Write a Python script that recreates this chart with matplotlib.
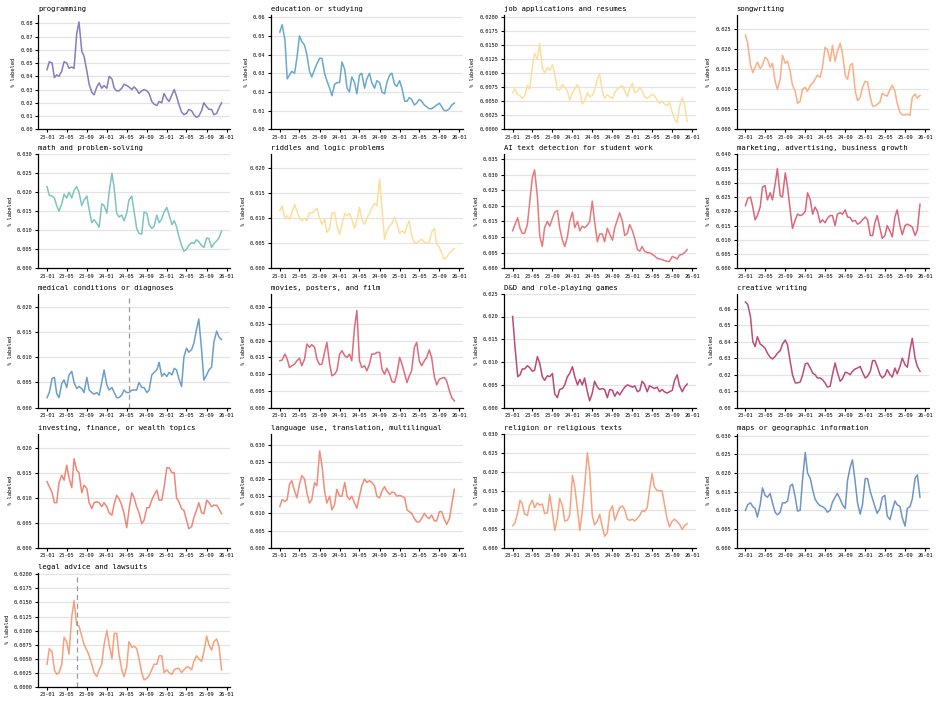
import matplotlib
matplotlib.use("Agg")
import matplotlib.pyplot as plt
import matplotlib.dates as mdates
from matplotlib.ticker import MaxNLocator
import pandas as pd

plt.rcParams["font.family"] = ["DejaVu Sans Mono"]

# semi-monthly sample dates shared by all series
dates = pd.date_range("2023-01-01", periods=71, freq="SMS")

titles = [
    "programming", "education or studying", "job applications and resumes", "songwriting",
    "math and problem-solving", "riddles and logic problems", "AI text detection for student work",
    "marketing, advertising, business growth",
    "medical conditions or diagnoses", "movies, posters, and film", "D&D and role-playing games",
    "creative writing",
    "investing, finance, or wealth topics", "language use, translation, multilingual",
    "religion or religious texts", "maps or geographic information",
    "legal advice and lawsuits",
]

colors = [
    "#8a7bbf", "#67a9cf", "#fddf9c", "#fcae85",
    "#7fc4bd", "#fddf9c", "#e9787b", "#dc6678",
    "#6a9fcc", "#df6c7c", "#bb4a76", "#bf4c79",
    "#ee8777", "#f28d77", "#f8a37e", "#6f95c6",
    "#f7a07b",
]

programming = [0.045, 0.051, 0.050, 0.039, 0.041, 0.040, 0.044, 0.051, 0.050, 0.046,
               0.047, 0.046, 0.072, 0.081, 0.059, 0.055, 0.044, 0.034, 0.028, 0.026,
               0.032, 0.035, 0.031, 0.033, 0.031, 0.040, 0.038, 0.031, 0.029, 0.029,
               0.031, 0.034, 0.033, 0.032, 0.030, 0.032, 0.030, 0.027, 0.029, 0.030,
               0.029, 0.027, 0.021, 0.019, 0.018, 0.021, 0.020, 0.027, 0.023, 0.021,
               0.026, 0.030, 0.025, 0.019, 0.013, 0.011, 0.012, 0.015, 0.014, 0.011,
               0.009, 0.010, 0.014, 0.020, 0.017, 0.015, 0.015, 0.011, 0.012, 0.016,
               0.020]
education = [0.052, 0.056, 0.048, 0.027, 0.029, 0.031, 0.030, 0.038, 0.050, 0.047,
             0.045, 0.040, 0.031, 0.028, 0.032, 0.035, 0.038, 0.038, 0.030, 0.026,
             0.022, 0.018, 0.024, 0.025, 0.025, 0.036, 0.032, 0.022, 0.020, 0.028,
             0.025, 0.019, 0.029, 0.030, 0.022, 0.027, 0.030, 0.025, 0.022, 0.026,
             0.025, 0.020, 0.019, 0.025, 0.029, 0.030, 0.024, 0.023, 0.026, 0.022,
             0.015, 0.015, 0.017, 0.016, 0.013, 0.014, 0.016, 0.015, 0.013, 0.012,
             0.011, 0.011, 0.012, 0.013, 0.014, 0.012, 0.010, 0.010, 0.011, 0.013,
             0.014]
job = [0.0065, 0.0072, 0.0062, 0.0060, 0.0055, 0.0060, 0.0078, 0.0072, 0.0110, 0.0135,
       0.0125, 0.0153, 0.0110, 0.0100, 0.0110, 0.0105, 0.0115, 0.0098, 0.0070, 0.0070,
       0.0080, 0.0075, 0.0068, 0.0052, 0.0065, 0.0072, 0.0080, 0.0068, 0.0045, 0.0050,
       0.0065, 0.0058, 0.0060, 0.0070, 0.0090, 0.0098, 0.0068, 0.0055, 0.0062, 0.0058,
       0.0055, 0.0065, 0.0072, 0.0075, 0.0078, 0.0068, 0.0058, 0.0072, 0.0082, 0.0065,
       0.0068, 0.0075, 0.0068, 0.0058, 0.0055, 0.0058, 0.0062, 0.0060, 0.0052, 0.0046,
       0.0050, 0.0045, 0.0042, 0.0048, 0.0030, 0.0018, 0.0012, 0.0040, 0.0056, 0.0045,
       0.0014]
songwriting = [0.0235, 0.0215, 0.0160, 0.0142, 0.0155, 0.0168, 0.0152, 0.0160, 0.0180, 0.0175,
               0.0155, 0.0165, 0.0120, 0.0100, 0.0125, 0.0185, 0.0165, 0.0170, 0.0145, 0.0110,
               0.0095, 0.0065, 0.0070, 0.0100, 0.0105, 0.0095, 0.0110, 0.0115, 0.0125, 0.0135,
               0.0130, 0.0155, 0.0205, 0.0200, 0.0170, 0.0210, 0.0170, 0.0195, 0.0215, 0.0190,
               0.0135, 0.0125, 0.0160, 0.0165, 0.0095, 0.0072, 0.0080, 0.0105, 0.0120, 0.0118,
               0.0080, 0.0058, 0.0058, 0.0062, 0.0068, 0.0090, 0.0085, 0.0083, 0.0100, 0.0110,
               0.0095, 0.0065, 0.0042, 0.0036, 0.0036, 0.0038, 0.0035, 0.0080, 0.0088, 0.0078,
               0.0085]
math_ = [0.0215, 0.0192, 0.0190, 0.0185, 0.0165, 0.0150, 0.0170, 0.0195, 0.0185, 0.0200,
         0.0185, 0.0205, 0.0215, 0.0200, 0.0165, 0.0180, 0.0190, 0.0155, 0.0120, 0.0128,
         0.0118, 0.0108, 0.0170, 0.0165, 0.0145, 0.0200, 0.0250, 0.0210, 0.0145, 0.0135,
         0.0140, 0.0125, 0.0145, 0.0180, 0.0190, 0.0150, 0.0105, 0.0092, 0.0090, 0.0148,
         0.0145, 0.0115, 0.0105, 0.0110, 0.0140, 0.0120, 0.0130, 0.0148, 0.0160, 0.0140,
         0.0115, 0.0125, 0.0110, 0.0085, 0.0060, 0.0045, 0.0050, 0.0060, 0.0068, 0.0065,
         0.0075, 0.0070, 0.0060, 0.0055, 0.0080, 0.0078, 0.0055, 0.0065, 0.0072, 0.0080,
         0.0098]
riddles = [0.0115, 0.0125, 0.0100, 0.0105, 0.0098, 0.0110, 0.0128, 0.0115, 0.0100, 0.0095,
           0.0100, 0.0095, 0.0112, 0.0110, 0.0115, 0.0120, 0.0100, 0.0088, 0.0098, 0.0072,
           0.0080, 0.0110, 0.0112, 0.0085, 0.0068, 0.0088, 0.0110, 0.0105, 0.0110, 0.0098,
           0.0080, 0.0095, 0.0122, 0.0098, 0.0088, 0.0100, 0.0110, 0.0120, 0.0130, 0.0125,
           0.0178, 0.0120, 0.0058, 0.0075, 0.0085, 0.0090, 0.0102, 0.0090, 0.0070, 0.0075,
           0.0070, 0.0085, 0.0095, 0.0065, 0.0052, 0.0050, 0.0055, 0.0058, 0.0052, 0.0050,
           0.0052, 0.0072, 0.0080, 0.0048, 0.0042, 0.0030, 0.0018, 0.0022, 0.0030, 0.0035,
           0.0040]
ai_detection = [0.0120, 0.0140, 0.0162, 0.0128, 0.0112, 0.0112, 0.0140, 0.0210, 0.0290, 0.0315,
                0.0230, 0.0105, 0.0070, 0.0130, 0.0150, 0.0135, 0.0160, 0.0180, 0.0185, 0.0130,
                0.0090, 0.0070, 0.0100, 0.0150, 0.0180, 0.0130, 0.0150, 0.0120, 0.0135, 0.0130,
                0.0138, 0.0150, 0.0215, 0.0150, 0.0085, 0.0110, 0.0110, 0.0085, 0.0128, 0.0110,
                0.0090, 0.0130, 0.0155, 0.0178, 0.0150, 0.0105, 0.0112, 0.0140, 0.0120, 0.0095,
                0.0060, 0.0055, 0.0070, 0.0055, 0.0050, 0.0050, 0.0045, 0.0040, 0.0032, 0.0030,
                0.0028, 0.0025, 0.0022, 0.0022, 0.0038, 0.0035, 0.0030, 0.0042, 0.0045, 0.0050,
                0.0060]
marketing = [0.0220, 0.0245, 0.0250, 0.0215, 0.0170, 0.0185, 0.0215, 0.0285, 0.0290, 0.0240,
             0.0265, 0.0240, 0.0295, 0.0350, 0.0255, 0.0250, 0.0335, 0.0285, 0.0205, 0.0140,
             0.0170, 0.0190, 0.0185, 0.0188, 0.0200, 0.0265, 0.0240, 0.0190, 0.0215, 0.0200,
             0.0160, 0.0170, 0.0160, 0.0175, 0.0185, 0.0185, 0.0150, 0.0190, 0.0195, 0.0190,
             0.0205, 0.0180, 0.0178, 0.0165, 0.0168, 0.0155, 0.0160, 0.0170, 0.0180, 0.0170,
             0.0115, 0.0115, 0.0160, 0.0185, 0.0140, 0.0105, 0.0115, 0.0150, 0.0130, 0.0110,
             0.0180, 0.0205, 0.0150, 0.0118, 0.0150, 0.0155, 0.0150, 0.0145, 0.0115, 0.0135,
             0.0225]
medical = [0.0020, 0.0030, 0.0058, 0.0060, 0.0028, 0.0020, 0.0048, 0.0055, 0.0040, 0.0065,
           0.0072, 0.0050, 0.0038, 0.0042, 0.0038, 0.0030, 0.0060, 0.0035, 0.0030, 0.0027,
           0.0030, 0.0025, 0.0050, 0.0075, 0.0045, 0.0035, 0.0040, 0.0030, 0.0020, 0.0020,
           0.0025, 0.0035, 0.0030, 0.0030, 0.0035, 0.0035, 0.0035, 0.0050, 0.0040, 0.0040,
           0.0030, 0.0035, 0.0065, 0.0070, 0.0075, 0.0090, 0.0062, 0.0068, 0.0062, 0.0070,
           0.0065, 0.0078, 0.0075, 0.0058, 0.0042, 0.0100, 0.0118, 0.0110, 0.0115, 0.0128,
           0.0155, 0.0176, 0.0115, 0.0055, 0.0065, 0.0075, 0.0080, 0.0130, 0.0152, 0.0140,
           0.0135]
movies = [0.0140, 0.0142, 0.0160, 0.0145, 0.0120, 0.0125, 0.0130, 0.0140, 0.0148, 0.0125,
          0.0145, 0.0190, 0.0180, 0.0188, 0.0180, 0.0145, 0.0128, 0.0130, 0.0165, 0.0195,
          0.0130, 0.0095, 0.0100, 0.0110, 0.0160, 0.0170, 0.0155, 0.0150, 0.0160, 0.0140,
          0.0240, 0.0290, 0.0140, 0.0120, 0.0125, 0.0110, 0.0130, 0.0160, 0.0160, 0.0165,
          0.0165, 0.0115, 0.0100, 0.0118, 0.0100, 0.0078, 0.0075, 0.0100, 0.0150, 0.0130,
          0.0100, 0.0075, 0.0095, 0.0110, 0.0180, 0.0195, 0.0140, 0.0125, 0.0140, 0.0150,
          0.0172, 0.0150, 0.0092, 0.0068, 0.0085, 0.0088, 0.0090, 0.0080, 0.0050, 0.0030,
          0.0020]
dnd = [0.0200, 0.0135, 0.0068, 0.0072, 0.0085, 0.0085, 0.0092, 0.0088, 0.0080, 0.0082,
       0.0112, 0.0098, 0.0068, 0.0060, 0.0070, 0.0068, 0.0075, 0.0030, 0.0022, 0.0040,
       0.0042, 0.0050, 0.0068, 0.0075, 0.0090, 0.0068, 0.0050, 0.0062, 0.0050, 0.0065,
       0.0035, 0.0015, 0.0032, 0.0058, 0.0045, 0.0040, 0.0042, 0.0040, 0.0022, 0.0040,
       0.0038, 0.0025, 0.0035, 0.0028, 0.0038, 0.0045, 0.0050, 0.0048, 0.0045, 0.0048,
       0.0035, 0.0038, 0.0058, 0.0052, 0.0035, 0.0048, 0.0045, 0.0042, 0.0045, 0.0035,
       0.0040, 0.0035, 0.0032, 0.0035, 0.0038, 0.0060, 0.0072, 0.0048, 0.0035, 0.0045,
       0.0052]
creative = [0.0640, 0.0625, 0.0550, 0.0400, 0.0370, 0.0430, 0.0385, 0.0375, 0.0360, 0.0330,
            0.0305, 0.0295, 0.0310, 0.0330, 0.0345, 0.0385, 0.0410, 0.0380, 0.0280, 0.0200,
            0.0150, 0.0150, 0.0155, 0.0195, 0.0265, 0.0270, 0.0240, 0.0210, 0.0200, 0.0180,
            0.0180, 0.0170, 0.0150, 0.0125, 0.0130, 0.0200, 0.0270, 0.0215, 0.0160, 0.0175,
            0.0215, 0.0210, 0.0200, 0.0220, 0.0235, 0.0240, 0.0250, 0.0215, 0.0180, 0.0190,
            0.0220, 0.0285, 0.0285, 0.0250, 0.0200, 0.0180, 0.0195, 0.0230, 0.0200, 0.0185,
            0.0240, 0.0205, 0.0250, 0.0300, 0.0260, 0.0245, 0.0350, 0.0420, 0.0300, 0.0250,
            0.0220]
investing = [0.0132, 0.0122, 0.0110, 0.0090, 0.0090, 0.0130, 0.0145, 0.0135, 0.0165, 0.0140,
             0.0120, 0.0178, 0.0155, 0.0150, 0.0110, 0.0125, 0.0118, 0.0090, 0.0078, 0.0090,
             0.0092, 0.0090, 0.0082, 0.0090, 0.0082, 0.0070, 0.0065, 0.0088, 0.0105, 0.0098,
             0.0085, 0.0068, 0.0040, 0.0075, 0.0110, 0.0100, 0.0082, 0.0070, 0.0048, 0.0055,
             0.0080, 0.0080, 0.0095, 0.0105, 0.0115, 0.0095, 0.0095, 0.0120, 0.0160, 0.0160,
             0.0150, 0.0150, 0.0100, 0.0092, 0.0078, 0.0075, 0.0055, 0.0038, 0.0042, 0.0060,
             0.0075, 0.0090, 0.0070, 0.0068, 0.0095, 0.0090, 0.0082, 0.0085, 0.0085, 0.0078,
             0.0068]
language = [0.0120, 0.0140, 0.0135, 0.0140, 0.0185, 0.0195, 0.0165, 0.0145, 0.0185, 0.0210,
            0.0200, 0.0160, 0.0130, 0.0140, 0.0190, 0.0180, 0.0282, 0.0240, 0.0165, 0.0130,
            0.0150, 0.0110, 0.0125, 0.0170, 0.0150, 0.0150, 0.0190, 0.0150, 0.0140, 0.0150,
            0.0130, 0.0115, 0.0150, 0.0180, 0.0200, 0.0190, 0.0195, 0.0190, 0.0180, 0.0150,
            0.0145, 0.0165, 0.0178, 0.0165, 0.0155, 0.0162, 0.0160, 0.0150, 0.0152, 0.0150,
            0.0145, 0.0110, 0.0105, 0.0100, 0.0085, 0.0075, 0.0075, 0.0085, 0.0100, 0.0090,
            0.0085, 0.0095, 0.0078, 0.0078, 0.0105, 0.0105, 0.0082, 0.0068, 0.0085, 0.0125,
            0.0170]
religion = [0.0058, 0.0065, 0.0092, 0.0125, 0.0115, 0.0088, 0.0085, 0.0112, 0.0125, 0.0105,
            0.0118, 0.0112, 0.0115, 0.0090, 0.0092, 0.0140, 0.0092, 0.0045, 0.0078, 0.0130,
            0.0110, 0.0070, 0.0072, 0.0085, 0.0190, 0.0160, 0.0100, 0.0045, 0.0095, 0.0160,
            0.0250, 0.0200, 0.0085, 0.0060, 0.0070, 0.0088, 0.0055, 0.0030, 0.0040, 0.0095,
            0.0110, 0.0072, 0.0090, 0.0105, 0.0110, 0.0100, 0.0075, 0.0072, 0.0075, 0.0070,
            0.0078, 0.0085, 0.0098, 0.0095, 0.0105, 0.0150, 0.0195, 0.0160, 0.0150, 0.0150,
            0.0150, 0.0115, 0.0075, 0.0055, 0.0070, 0.0075, 0.0068, 0.0062, 0.0048, 0.0058,
            0.0063]
maps = [0.0100, 0.0115, 0.0120, 0.0110, 0.0105, 0.0082, 0.0115, 0.0160, 0.0140, 0.0135,
        0.0145, 0.0120, 0.0095, 0.0088, 0.0095, 0.0120, 0.0120, 0.0125, 0.0165, 0.0170,
        0.0135, 0.0098, 0.0100, 0.0180, 0.0255, 0.0200, 0.0185, 0.0155, 0.0130, 0.0120,
        0.0112, 0.0110, 0.0105, 0.0095, 0.0100, 0.0122, 0.0135, 0.0145, 0.0130, 0.0115,
        0.0105, 0.0180, 0.0215, 0.0235, 0.0175, 0.0120, 0.0090, 0.0115, 0.0185, 0.0185,
        0.0150, 0.0130, 0.0110, 0.0092, 0.0105, 0.0135, 0.0140, 0.0085, 0.0075, 0.0100,
        0.0125, 0.0115, 0.0110, 0.0080, 0.0058, 0.0105, 0.0110, 0.0130, 0.0185, 0.0195,
        0.0135]
legal = [0.0040, 0.0068, 0.0062, 0.0030, 0.0022, 0.0025, 0.0040, 0.0088, 0.0080, 0.0058,
         0.0125, 0.0153, 0.0110, 0.0108, 0.0090, 0.0075, 0.0065, 0.0055, 0.0040, 0.0025,
         0.0018, 0.0030, 0.0040, 0.0075, 0.0100, 0.0075, 0.0050, 0.0095, 0.0095, 0.0058,
         0.0030, 0.0018, 0.0035, 0.0080, 0.0070, 0.0072, 0.0068, 0.0050, 0.0025, 0.0012,
         0.0015, 0.0020, 0.0030, 0.0040, 0.0040, 0.0055, 0.0055, 0.0025, 0.0030, 0.0025,
         0.0022, 0.0030, 0.0032, 0.0033, 0.0025, 0.0030, 0.0035, 0.0035, 0.0030, 0.0045,
         0.0055, 0.0050, 0.0045, 0.0062, 0.0090, 0.0075, 0.0065, 0.0080, 0.0085, 0.0072,
         0.0030]

series = [programming, education, job, songwriting, math_, riddles, ai_detection, marketing,
          medical, movies, dnd, creative, investing, language, religion, maps, legal]

# event markers (dashed vertical lines)
events = {"medical conditions or diagnoses": "2024-05-13",
          "legal advice and lawsuits": "2023-07-04"}

W, H = 939, 702
fig = plt.figure(figsize=(W / 100, H / 100), dpi=100)

col_left = [38.3, 271.1, 503.9, 736.7]
ax_w = 192.0
row_bottom = [129.3, 268.3, 407.7, 547.7, 686.7]
ax_h = 114.0

for k, (title, vals, col) in enumerate(zip(titles, series, colors)):
    r, c = divmod(k, 4)
    ax = fig.add_axes([col_left[c] / W, 1 - row_bottom[r] / H, ax_w / W, ax_h / H])
    ax.plot(dates, vals, color=col, lw=1.1, solid_joinstyle="round")
    if title in events:
        ax.axvline(pd.Timestamp(events[title]), color="#999999", ls=(0, (4, 3)), lw=0.9)
    ax.set_ylim(0, max(vals) + 0.005)
    ax.yaxis.set_major_locator(MaxNLocator(nbins=9, steps=[1, 2, 2.5, 5, 10]))
    ax.xaxis.set_major_locator(mdates.MonthLocator(bymonth=[1, 5, 9]))
    ax.xaxis.set_major_formatter(mdates.DateFormatter("%y-%m"))
    ax.grid(axis="y", color="#e4e4e4", lw=0.9)
    ax.set_axisbelow(True)
    for s in ("top", "right"):
        ax.spines[s].set_visible(False)
    for s in ("left", "bottom"):
        ax.spines[s].set_linewidth(0.9)
        ax.spines[s].set_color("black")
    ax.tick_params(axis="both", direction="out", length=2.5, width=0.8,
                   labelsize=3.8, pad=1.5, colors="black")
    ax.set_ylabel("% labeled", fontsize=3.9, labelpad=3)
    ax.set_title(title, loc="left", fontsize=5.2, pad=3)

fig.savefig("out.png", dpi=100, facecolor="white")
